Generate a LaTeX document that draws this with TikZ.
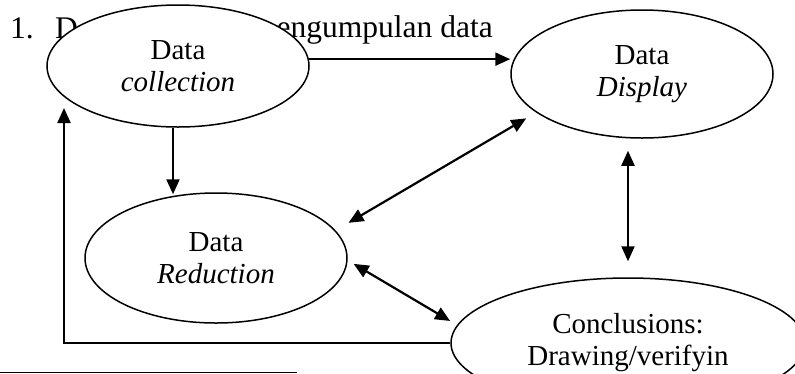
\documentclass[tikz,border=0pt]{standalone}
\usepackage{fontspec}
\setmainfont{Liberation Serif}
\usetikzlibrary{shapes.geometric,arrows.meta}
\begin{document}
\begin{tikzpicture}[x=1pt,y=-1pt,
  bubble/.style={draw, line width=1.5pt, ellipse, fill=white, inner sep=0pt, align=center, font=\fontsize{29}{32}\selectfont},
  conn/.style={line width=2.2pt, -{Triangle[length=15pt,width=13pt]}},
  dconn/.style={line width=2.2pt, {Triangle[length=15pt,width=13pt]}-{Triangle[length=15pt,width=13pt]}},
  bgtext/.style={font=\fontsize{31.5}{34}\selectfont, inner sep=0pt}]
\useasboundingbox (0,0) rectangle (795,373);
\clip (0,0) rectangle (795,373);
% background text line
\node[bgtext, anchor=base west] (num) at (10,38) {1.};
\node[bgtext, anchor=base west] (dd) at (55,38) {D};
\node[bgtext, anchor=base east] (pg) at (493,37) {engumpulan data};
% ellipses
\node[bubble, minimum width=262pt, minimum height=122pt] (col) at (178,66) {Data\\\textit{collection}};
\node[bubble, minimum width=262pt, minimum height=128pt] (disp) at (642,74) {Data\\\textit{Display}};
\node[bubble, minimum width=262pt, minimum height=130pt] (red) at (216,258) {Data\\\textit{Reduction}};
\node[bubble, minimum width=354pt, minimum height=130pt] (conc) at (628,343) {Conclusions:\\Drawing/verifyin};
% connectors
\draw[conn] (col.3.5) -- (col.3.5 -| disp.west);
\draw[conn, shorten >=-2pt] ([xshift=-5pt]col.south) -- ([xshift=-5pt]col.south |- red.north);
\draw[dconn, shorten <=11.5pt, shorten >=15pt] (disp.200) -- (red.13.5);
\draw[dconn, shorten <=12pt, shorten >=16pt] (conc.north |- disp.south) -- (conc.north);
\draw[dconn, shorten <=7pt, shorten >=8pt] (red.-1.5) -- (conc.174.3);
\coordinate (ltip) at (64,108);
\draw[conn] (conc.west) -| (ltip);
% footnote rule
\coordinate (fnA) at (0,372);
\coordinate (fnB) at (297,372);
\draw[line width=1pt] (fnA) -- (fnB);
\end{tikzpicture}
\end{document}
